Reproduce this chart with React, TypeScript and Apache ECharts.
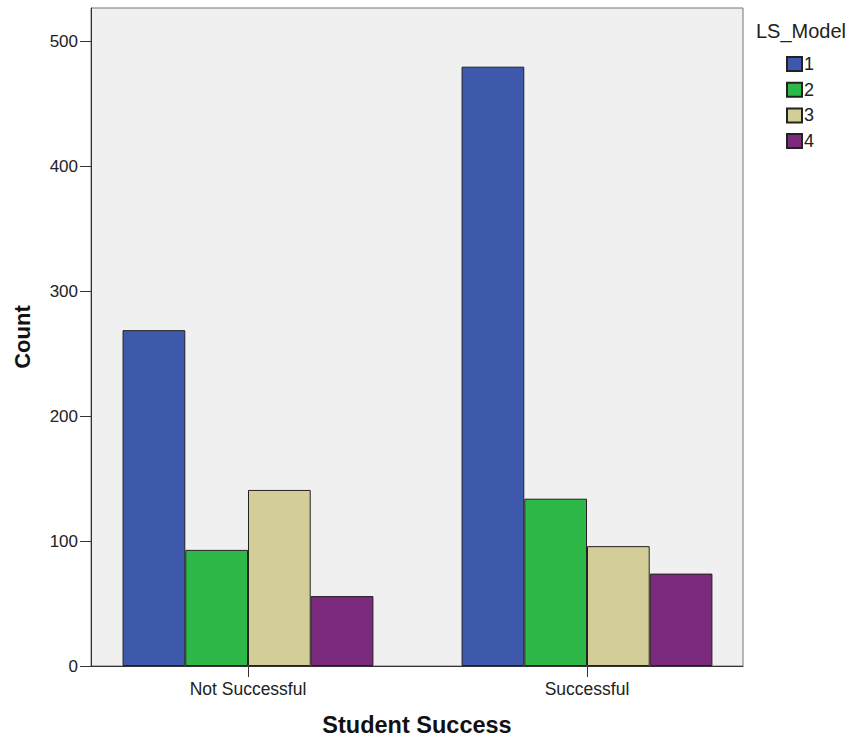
import React, { useEffect, useRef } from "react";
import * as echarts from "echarts";

const categories = ["Not Successful", "Successful"];
const modelNames = ["1", "2", "3", "4"];
const model1 = [269, 480];
const model2 = [93, 134];
const model3 = [141, 96];
const model4 = [56, 74];
const colors = ["#3e58ac", "#2eb848", "#d3ce97", "#7b2a7d"];

export default function App() {
  const ref = useRef<HTMLDivElement>(null);
  useEffect(() => {
    if (!ref.current) return;
    const chart = echarts.init(ref.current, undefined, { renderer: "svg" });
    const font = "'Liberation Sans', Arial, sans-serif";
    const seriesData = [model1, model2, model3, model4];
    chart.setOption({
      animation: false,
      backgroundColor: "#ffffff",
      textStyle: { fontFamily: font },
      grid: [
        { left: 91, top: 8, width: 652, height: 658, show: true, backgroundColor: "#f0f0f0", borderColor: "#777", borderWidth: 1 },
        { left: 78.5, top: 8, width: 678, height: 658 },
      ],
      xAxis: [
        { type: "category", gridIndex: 0, data: ["a"], axisLine: { show: true, lineStyle: { color: "#333", width: 1 } }, axisTick: { show: false }, axisLabel: { show: false } },
        {
          type: "category", gridIndex: 1, data: categories,
          axisLine: { show: false },
          axisTick: { show: true, alignWithLabel: true, length: 11, lineStyle: { color: "#333" } },
          axisLabel: { fontSize: 17.5, color: "#222", margin: 14, fontFamily: font },
        },
      ],
      yAxis: [
        {
          type: "value", gridIndex: 0, min: 0, max: 527, interval: 100,
          axisLine: { show: true, lineStyle: { color: "#333", width: 1 } },
          axisTick: { show: true, length: 11, lineStyle: { color: "#333" } },
          axisLabel: { fontSize: 17, color: "#222", margin: 13, showMaxLabel: false, fontFamily: font,
            formatter: (v: number) => (v % 100 === 0 ? String(v) : "") },
          splitLine: { show: false },
        },
        { type: "value", gridIndex: 1, min: 0, max: 527, show: false, splitLine: { show: false } },
      ],
      legend: {
        orient: "vertical", left: 781, top: 50, itemWidth: 15, itemHeight: 14, itemGap: 7.7,
        icon: "rect", data: modelNames,
        textStyle: { fontSize: 18, color: "#222", padding: [0, 0, 0, -3], fontFamily: font },
      },
      graphic: [
        { type: "text", left: 756, top: 21, style: { text: "LS_Model", fontSize: 20, fill: "#222", fontFamily: font } },
        { type: "text", x: 22, y: 337, rotation: Math.PI / 2, style: { text: "Count", fontSize: 22, fontWeight: "bold", fill: "#111", fontFamily: font, align: "center", verticalAlign: "middle" } },
        { type: "text", x: 417, y: 725, style: { text: "Student Success", fontSize: 23.5, fontWeight: "bold", fill: "#111", fontFamily: font, align: "center", verticalAlign: "middle" } },
      ],
      series: seriesData.map((d, i) => ({
        name: modelNames[i], type: "bar", xAxisIndex: 1, yAxisIndex: 1, data: d,
        barGap: "0%", barCategoryGap: "26%",
        itemStyle: { color: colors[i], borderColor: "#222", borderWidth: 1 },
      })),
    });
    return () => chart.dispose();
  }, []);
  return <div ref={ref} style={{ position: "absolute", left: 0, top: 0, width: 855, height: 740 }} />;
}
